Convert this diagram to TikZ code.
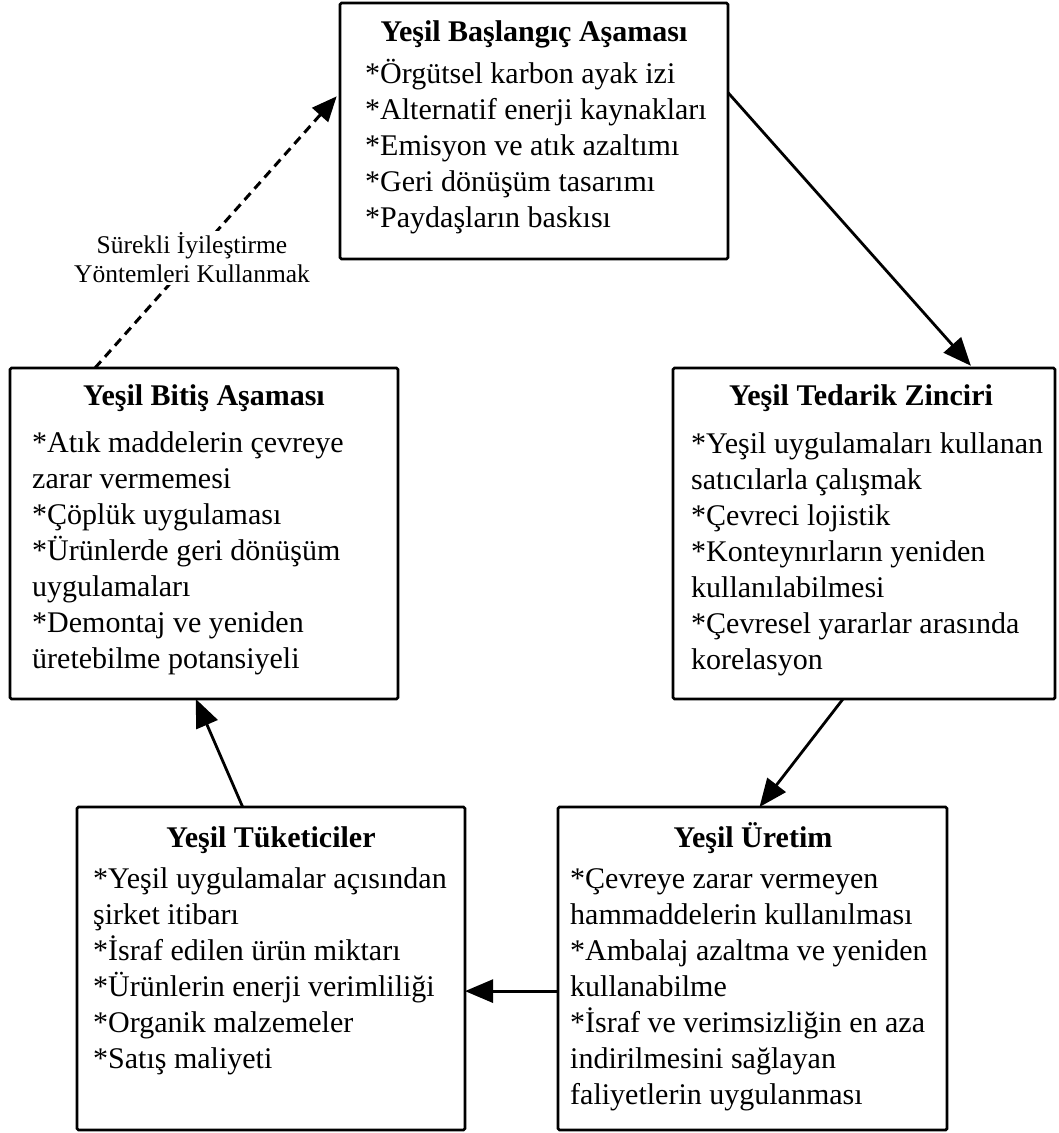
\documentclass[tikz,border=0pt]{standalone}
\usepackage{fontspec}
\setmainfont{Liberation Serif}
\usetikzlibrary{arrows.meta,calc}
\begin{document}
\begin{tikzpicture}[x=1pt,y=-1pt,
  box/.style={draw, line width=2.8pt, rounded corners=1.5pt, outer sep=0pt, inner sep=0pt},
  ttl/.style={font=\fontsize{30}{36}\selectfont\bfseries, anchor=base, inner sep=0pt},
  txt/.style={font=\fontsize{30}{36}\selectfont, anchor=base west, align=left, inner sep=0pt},
  conn/.style={line width=2.8pt, -{Triangle[length=28pt,width=23pt]}},
  dconn/.style={line width=3pt, dash pattern=on 9pt off 6pt, -{Triangle[length=25pt,width=21pt]}},
  lbl/.style={font=\fontsize{25.5}{29}\selectfont, align=center, fill=white, inner sep=2pt}
  ]
\useasboundingbox[fill=white] (0,0) rectangle (1059,1133);

% boxes
\node[box, minimum width=388pt, minimum height=256pt] (start) at (534,131) {};
\node[box, minimum width=388pt, minimum height=331pt] (bit) at (204,533.5) {};
\node[box, minimum width=382pt, minimum height=331pt] (ted) at (864,533.5) {};
\node[box, minimum width=388pt, minimum height=323pt] (tuk) at (271,968.5) {};
\node[box, minimum width=389pt, minimum height=323pt] (ure) at (752.5,968.5) {};

% titles and texts (body anchor = baseline of last line)
\node[ttl] (startT) at (534,41) {Yeşil Başlangıç Aşaması};
\node[txt] (startB) at (365,227) {*Örgütsel karbon ayak izi\\*Alternatif enerji kaynakları\\*Emisyon ve atık azaltımı\\*Geri dönüşüm tasarımı\\*Paydaşların baskısı};

\node[ttl] (bitT) at (204,405) {Yeşil Bitiş Aşaması};
\node[txt] (bitB) at (32,668) {*Atık maddelerin çevreye\\zarar vermemesi\\*Çöplük uygulaması\\*Ürünlerde geri dönüşüm\\uygulamaları\\*Demontaj ve yeniden\\üretebilme potansiyeli};

\node[ttl] (tedT) at (861,405) {Yeşil Tedarik Zinciri};
\node[txt] (tedB) at (691,669) {*Yeşil uygulamaları kullanan\\satıcılarla çalışmak\\*Çevreci lojistik\\*Konteynırların yeniden\\kullanılabilmesi\\*Çevresel yararlar arasında\\korelasyon};

\node[ttl] (tukT) at (271,847) {Yeşil Tüketiciler};
\node[txt] (tukB) at (93,1068) {*Yeşil uygulamalar açısından\\şirket itibarı\\*İsraf edilen ürün miktarı\\*Ürünlerin enerji verimliliği\\*Organik malzemeler\\*Satış maliyeti};

\node[ttl] (ureT) at (753,847) {Yeşil Üretim};
\node[txt] (ureB) at (570,1104) {*Çevreye zarar vermeyen\\hammaddelerin kullanılması\\*Ambalaj azaltma ve yeniden\\kullanabilme\\*İsraf ve verimsizliğin en aza\\indirilmesini sağlayan\\faliyetlerin uygulanması};

% connectors
\draw[conn, shorten >=3pt] ($(start.north east)!0.35!(start.south east)$) -- ($(ted.north west)!0.785!(ted.north east)$);
\draw[conn] ($(ted.south west)!0.445!(ted.south east)$) -- ($(ure.north west)!0.518!(ure.north east)$);
\draw[conn] ($(ure.north west)!0.57!(ure.south west)$) -- ($(tuk.north east)!0.57!(tuk.south east)$);
\draw[conn] ($(tuk.north west)!0.427!(tuk.north east)$) -- ($(bit.south west)!0.479!(bit.south east)$);
\draw[dconn, shorten >=5pt] ($(bit.north west)!0.219!(bit.north east)$) -- ($(start.north west)!0.35!(start.south west)$);
\node[lbl] (loop) at (192,258) {Sürekli İyileştirme\\Yöntemleri Kullanmak};
\end{tikzpicture}
\end{document}
